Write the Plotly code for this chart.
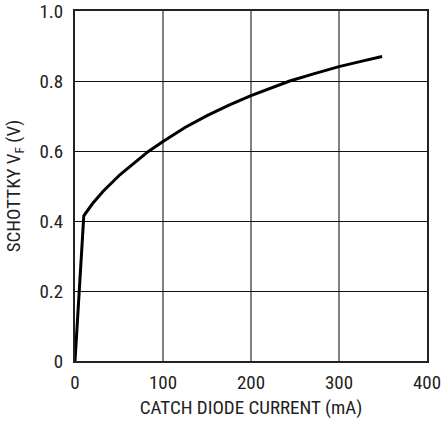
import plotly.graph_objects as go

current_ma = [0, 10, 20, 32, 51, 70, 83, 100, 125, 150, 175, 200, 222, 244, 272, 300, 325, 349]
vf_volts = [0, 0.415, 0.450, 0.485, 0.532, 0.572, 0.598, 0.627, 0.667, 0.701, 0.731, 0.758, 0.780, 0.800, 0.821, 0.841, 0.856, 0.870]

x_ticks = [0, 100, 200, 300, 400]
y_ticks = [0, 0.2, 0.4, 0.6, 0.8, 1.0]
y_tick_text = ["0", "0.2", "0.4", "0.6", "0.8", "1.0"]

font_family = "Roboto Condensed, Liberation Sans Narrow, Arial Narrow, Roboto, sans-serif"

fig = go.Figure()
fig.add_trace(go.Scatter(
    x=current_ma, y=vf_volts, mode="lines",
    line=dict(color="black", width=3, shape="linear"),
    showlegend=False, hoverinfo="skip"))

fig.update_layout(
    width=442, height=423,
    margin=dict(l=75, r=15, t=11, b=62, autoexpand=False),
    paper_bgcolor="white", plot_bgcolor="white",
    font=dict(family=font_family, size=19, color="#222"),
)
fig.update_xaxes(
    range=[0, 400], tickvals=x_ticks, showgrid=True, gridcolor="#808080", gridwidth=1.5,
    showline=True, linecolor="#222", linewidth=2, mirror=True, zeroline=False,
    ticks="", ticklabelstandoff=3, automargin=False, ticklabeloverflow="allow",
    tickfont=dict(size=19),
    title=dict(text="CATCH DIODE CURRENT (mA)", font=dict(size=19), standoff=8),
)
fig.update_yaxes(
    range=[0, 1.0], tickvals=y_ticks, ticktext=y_tick_text, showgrid=True,
    gridcolor="#111", gridwidth=1,
    showline=True, linecolor="#222", linewidth=2, mirror=True, zeroline=False,
    ticks="", ticklabelstandoff=6, automargin=False, ticklabeloverflow="allow",
    tickfont=dict(size=19),
    title=dict(text="SCHOTTKY V<sub>F</sub> (V)", font=dict(size=19), standoff=14),
)
fig.write_html("out.html", config={"displayModeBar": False},
               post_script="document.body.style.margin='0px';")
